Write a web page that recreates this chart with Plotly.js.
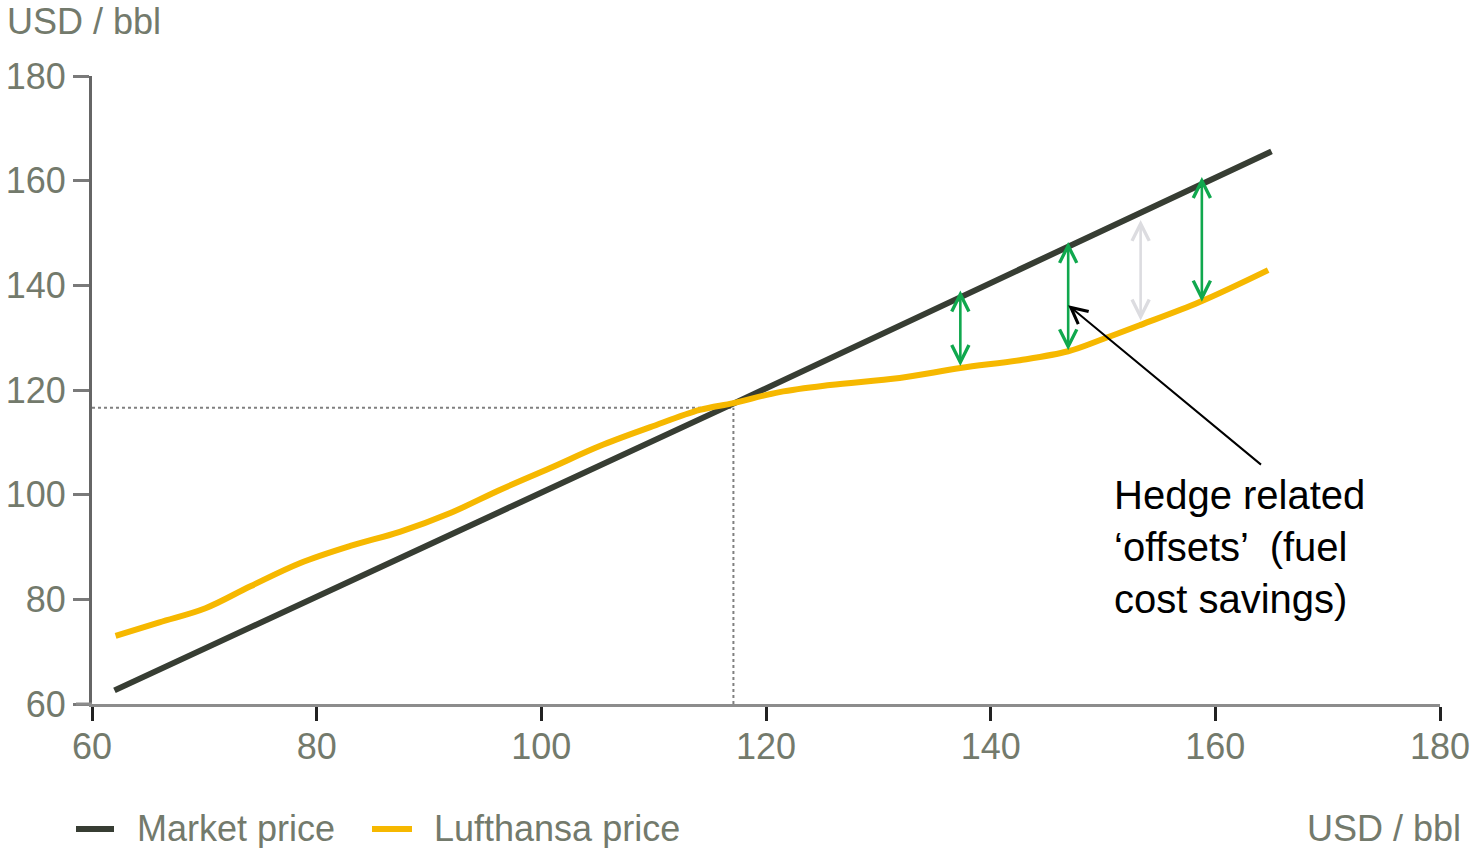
<!DOCTYPE html>
<html>
<head>
<meta charset="utf-8">
<script src="https://cdn.plot.ly/plotly-3.0.1.min.js"></script>
<style>html,body{margin:0;padding:0;background:#fff;}#chart{width:1474px;height:848px;}</style>
</head>
<body>
<div id="chart"></div>
<script>
// ---- data ----
const marketX = [62, 117, 165];
const marketY = [62.6, 117.3, 165.6];

const lufthansaX = [62.1, 66, 70.1, 74.1, 78.5, 83, 87.4, 91.9, 96.3, 100.8, 105.2, 109.7, 114.1, 117.1, 121.2, 125.7, 131.9, 137.3, 142.6, 146.9, 149.7, 153.3, 158.6, 164.7];
const lufthansaY = [73, 75.6, 78.3, 82.5, 86.9, 90.2, 92.9, 96.5, 100.9, 105.1, 109.3, 112.9, 116.2, 117.5, 119.6, 120.95, 122.3, 124.2, 125.7, 127.4, 129.5, 132.4, 136.8, 142.9];

const offsetX = [137.3, 146.9, 153.35, 158.8];
const offsetTop = [139.0, 148.3, 152.5, 160.7];
const offsetBottom = [124.3, 127.3, 133.0, 136.6];
const offsetIsActive = [true, true, false, true];

const breakEvenX = 117.1;
const breakEvenY = 116.6;

const pointerHead = [146.9, 136.2];
const pointerTail = [164.2, 105.5];
const noteText = 'Hedge related<br>‘offsets’  (fuel<br>cost savings)';
const notePos = [150.8, 104.6];

const tickVals = [60, 80, 100, 120, 140, 160, 180];
const seriesNames = ['Market price', 'Lufthansa price'];
const unitLabel = 'USD / bbl';

// ---- style ----
const FONT = 'Liberation Sans, Arial, sans-serif';
const GREY_TXT = '#737a6c';
const DARK = '#373d33';
const GOLD = '#f6b800';
const GREEN = '#10a84e';
const LIGHT = '#dcdce0';
const seriesColors = [DARK, GOLD];

// plot area geometry (for paper-coordinate placement of legend)
const PL = 92, PW = 1348, PB = 704, PH = 628;
const px = v => (v - PL) / PW;
const py = v => (PB - v) / PH;

const traces = [
  {x: marketX, y: marketY, name: seriesNames[0], mode: 'lines',
   line: {color: seriesColors[0], width: 6}},
  {x: lufthansaX, y: lufthansaY, name: seriesNames[1], mode: 'lines',
   line: {color: seriesColors[1], width: 6, shape: 'spline', smoothing: 1}}
];

const annotations = [];
offsetX.forEach((x, i) => {
  annotations.push({
    x: x, y: offsetTop[i], ax: x, ay: offsetBottom[i],
    xref: 'x', yref: 'y', axref: 'x', ayref: 'y',
    text: '', showarrow: true, arrowside: 'end+start',
    arrowhead: 5, startarrowhead: 5, arrowsize: 1.3, startarrowsize: 1.3,
    arrowwidth: 2.6, arrowcolor: offsetIsActive[i] ? GREEN : LIGHT,
    standoff: 0, startstandoff: 0
  });
});
annotations.push({
  x: pointerHead[0], y: pointerHead[1], ax: pointerTail[0], ay: pointerTail[1],
  xref: 'x', yref: 'y', axref: 'x', ayref: 'y',
  text: '', showarrow: true, arrowhead: 5, arrowsize: 1.6, arrowwidth: 2,
  arrowcolor: '#000', standoff: 0
});
annotations.push({
  x: notePos[0], y: notePos[1], xref: 'x', yref: 'y',
  xanchor: 'left', yanchor: 'top', align: 'left', showarrow: false,
  text: noteText, font: {family: FONT, size: 40, color: '#000'}
});
annotations.push({
  x: px(5), y: py(22), xref: 'paper', yref: 'paper', xanchor: 'left', yanchor: 'middle',
  showarrow: false, text: unitLabel, font: {family: FONT, size: 36, color: GREY_TXT}
});
annotations.push({
  x: px(1463), y: py(828), xref: 'paper', yref: 'paper', xanchor: 'right', yanchor: 'middle',
  showarrow: false, text: unitLabel, font: {family: FONT, size: 36, color: GREY_TXT}
});

const shapes = [
  {type: 'line', xref: 'x', yref: 'y', x0: 60, x1: breakEvenX, y0: breakEvenY, y1: breakEvenY,
   line: {color: '#808080', width: 2, dash: '3px,3px'}, layer: 'below'},
  {type: 'line', xref: 'x', yref: 'y', x0: breakEvenX, x1: breakEvenX, y0: 60, y1: breakEvenY,
   line: {color: '#808080', width: 2, dash: '3px,3px'}, layer: 'below'},
  {type: 'line', xref: 'paper', yref: 'paper', x0: px(76), x1: 0, y0: 0, y1: 0,
   line: {color: '#8c8c8c', width: 3}}
];

// manual legend (keeps the plot area from being pushed by an outside legend)
const legendSwatch = [[76, 114], [372, 412]];
const legendTextX = [135, 432];
seriesNames.forEach((name, i) => {
  shapes.push({type: 'line', xref: 'paper', yref: 'paper',
    x0: px(legendSwatch[i][0]), x1: px(legendSwatch[i][1]), y0: py(829), y1: py(829),
    line: {color: seriesColors[i], width: 6}});
  annotations.push({x: px(legendTextX[i]), y: py(828), xref: 'paper', yref: 'paper',
    xanchor: 'left', yanchor: 'middle', showarrow: false, text: name,
    font: {family: FONT, size: 36, color: GREY_TXT}});
});

const layout = {
  width: 1474, height: 848,
  margin: {l: PL, r: 1474 - PL - PW, t: PB - PH, b: 848 - PB},
  paper_bgcolor: '#fff', plot_bgcolor: '#fff',
  font: {family: FONT, size: 36, color: GREY_TXT},
  showlegend: false,
  xaxis: {range: [60, 180], tickvals: tickVals, ticktext: tickVals.map(String),
          showgrid: false, zeroline: false, showline: true, linecolor: '#8c8c8c', linewidth: 3,
          ticks: 'outside', ticklen: 14, tickwidth: 3, tickcolor: '#222',
          ticklabelstandoff: -5,
          tickfont: {family: FONT, size: 36, color: GREY_TXT}, fixedrange: true},
  yaxis: {range: [60, 180], tickvals: tickVals, ticktext: tickVals.map(String),
          showgrid: false, zeroline: false, showline: true, linecolor: '#666', linewidth: 3,
          ticks: 'outside', ticklen: 16, tickwidth: 3, tickcolor: '#7a7a7a',
          tickfont: {family: FONT, size: 36, color: GREY_TXT}, fixedrange: true},
  annotations: annotations,
  shapes: shapes
};

Plotly.newPlot('chart', traces, layout, {displayModeBar: false, staticPlot: true});
</script>
</body>
</html>
